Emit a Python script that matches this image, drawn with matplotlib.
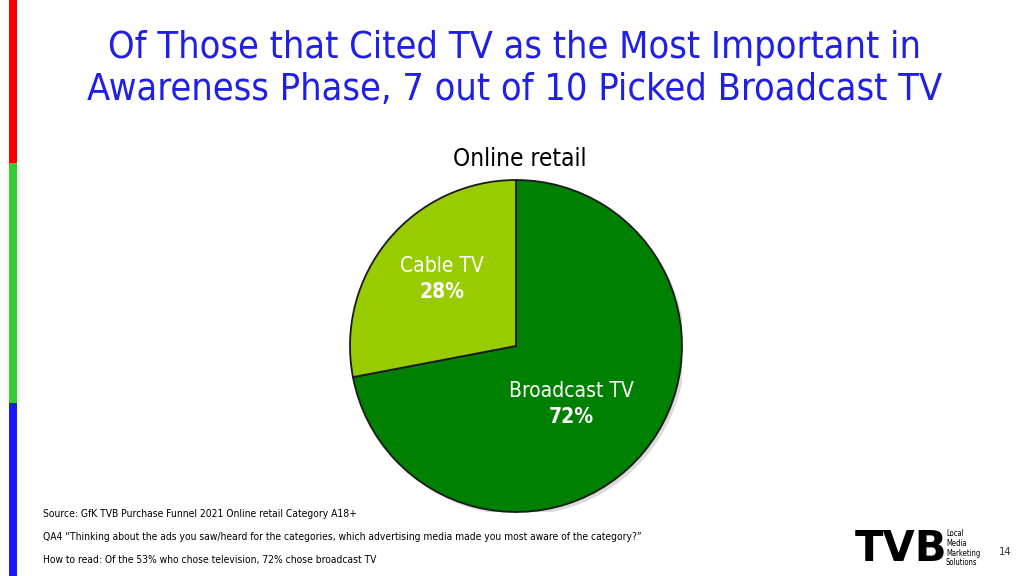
import matplotlib
matplotlib.use("Agg")
import matplotlib.pyplot as plt
from matplotlib.patches import Rectangle, Circle

categories = ["Broadcast TV", "Cable TV"]
values = [72, 28]
colors = ["#008000", "#99CC00"]
chart_title = "Online retail"
title_lines = ["Of Those that Cited TV as the Most Important in",
               "Awareness Phase, 7 out of 10 Picked Broadcast TV"]
notes = ["Source: GfK TVB Purchase Funnel 2021 Online retail Category A18+",
         "QA4 \u201cThinking about the ads you saw/heard for the categories, which advertising media made you most aware of the category?\u201d",
         "How to read: Of the 53% who chose television, 72% chose broadcast TV"]

plt.rcParams['font.family'] = ["DejaVu Sans"]
COND = dict(family=["DejaVu Sans"], fontstretch="condensed")

W, H = 1024, 576
fig = plt.figure(figsize=(W/100, H/100), dpi=100)
fig.patch.set_facecolor("white")

def fx(x): return x / W
def fy(y): return 1 - y / H

# left colour bar
for y0, y1, c in [(0, 163, "#FF0000"), (163, 403, "#33CC33"), (403, 576, "#1A1AFF")]:
    fig.add_artist(Rectangle((fx(9), fy(y1)), fx(8), (y1 - y0) / H,
                             transform=fig.transFigure, color=c, lw=0))

# title
fig.text(fx(515), fy(48), title_lines[0], ha="center", va="center",
         fontsize=27.2, color="#1F1FE6", **COND)
fig.text(fx(515), fy(90), title_lines[1], ha="center", va="center",
         fontsize=27.2, color="#1F1FE6", **COND)

fig.text(fx(520), fy(159), chart_title, ha="center", va="center",
         fontsize=17.5, color="black", **COND)

# pie
cx, cy, r = 516, 346, 166
ax = fig.add_axes([fx(cx - r), fy(cy + r), 2 * r / W, 2 * r / H])
ax.add_patch(Circle((0.02, -0.02), 1.0, color="#888888", alpha=0.3, lw=0, zorder=0))
wedges, _ = ax.pie(values, colors=colors, startangle=90, counterclock=False,
                   radius=1.0, wedgeprops=dict(edgecolor="#1a1a1a", linewidth=1.3))
for w in wedges:
    w.set_zorder(2)
ax.set_xlim(-1, 1); ax.set_ylim(-1, 1)
ax.set_aspect("equal"); ax.axis("off")

# labels
lab_pos = {"Cable TV": (442, 266, 292), "Broadcast TV": (571, 391, 417)}
for cat, val in zip(categories, values):
    x, y1, y2 = lab_pos[cat]
    fig.text(fx(x), fy(y1), cat, ha="center", va="center", fontsize=15,
             color="white", **COND)
    fig.text(fx(x), fy(y2), f"{val}%", ha="center", va="center", fontsize=15,
             color="white", fontweight="bold", **COND)

# notes
for y, t in zip([514, 537, 560], notes):
    fig.text(fx(43), fy(y), t, ha="left", va="center", fontsize=7.4,
             color="black", **COND)

# logo
fig.text(fx(855), fy(549), "TVB", ha="left", va="center", fontsize=30,
         fontweight="bold", color="black", family=["DejaVu Sans"])
for x, c in [(868, "#FF0000"), (891, "#33CC33"), (922, "#1A1AFF")]:
    fig.add_artist(Rectangle((fx(x), fy(548)), fx(4), 5 / H,
                             transform=fig.transFigure, color=c, lw=0))
for i, t in enumerate(["Local", "Media", "Marketing", "Solutions"]):
    fig.text(fx(946), fy(534 + i * 9.5), t, ha="left", va="center", fontsize=5.5,
             color="black", **COND)
fig.text(fx(1005), fy(552), "14", ha="center", va="center", fontsize=8,
         color="#333333", **COND)

fig.savefig("out.png", dpi=100)
